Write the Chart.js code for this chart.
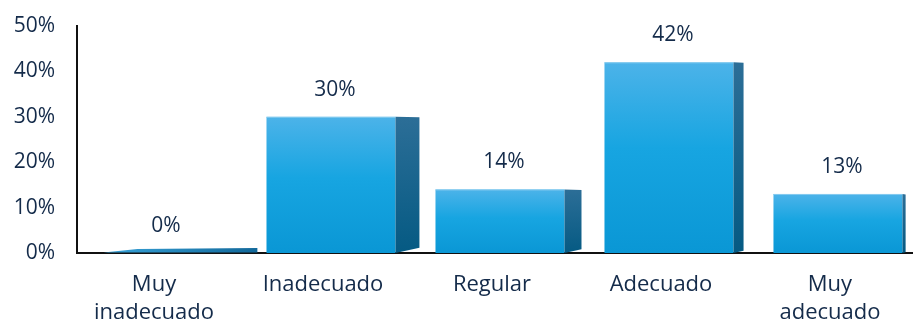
<!DOCTYPE html>
<html>
<head>
<meta charset="utf-8">
<script src="https://cdn.jsdelivr.net/npm/chart.js@4"></script>
<style>
  html, body { margin: 0; padding: 0; background: #fff; }
  #wrap { width: 913px; height: 327px; }
</style>
</head>
<body>
<div id="wrap"><canvas id="grafico"></canvas></div>
<script>
// Datos
const categorias = [['Muy', 'inadecuado'], 'Inadecuado', 'Regular', 'Adecuado', ['Muy', 'adecuado']];
const porcentajes = [0, 30, 14, 42, 13];
const ticksY = [0, 10, 20, 30, 40, 50];

const colorTexto = '#142b4a';
const fuente = '"Open Sans", sans-serif';

// Profundidad lateral (perspectiva: más grande a la izquierda)
const profundidad = (xDer) => Math.max(2, 24 - 0.041 * (xDer - 394));

// Barras 3D dibujadas a partir de los elementos de Chart.js
const barras3D = {
    id: 'barras3D',
    afterDatasetsDraw(chart) {
        const ctx = chart.ctx;
        const meta = chart.getDatasetMeta(0);
        meta.data.forEach((el, i) => {
            const xL = el.x - el.width / 2;
            const xR = el.x + el.width / 2;
            const top = el.y;
            const base = el.base;
            const dx = profundidad(xR);
            ctx.save();
            if (base - top < 1) {
                // barra en cero: solo la cara superior
                const g = ctx.createLinearGradient(xL, 0, xR + dx, 0);
                g.addColorStop(0, '#3aa6dc');
                g.addColorStop(1, '#12689a');
                ctx.fillStyle = g;
                ctx.beginPath();
                ctx.moveTo(xL + 6, base - 0.5);
                ctx.lineTo(xR + dx, base - 0.5);
                ctx.lineTo(xR + dx, base - 5);
                ctx.lineTo(xL + 40, base - 4);
                ctx.closePath();
                ctx.fill();
            } else {
                // cara frontal
                const gf = ctx.createLinearGradient(0, top, 0, base);
                gf.addColorStop(0, '#4cb3e9');
                gf.addColorStop(0.45, '#17a5e1');
                gf.addColorStop(1, '#0a97d5');
                ctx.fillStyle = gf;
                ctx.fillRect(xL, top, xR - xL, base - top);
                // cara lateral
                const gs = ctx.createLinearGradient(0, top, 0, base);
                gs.addColorStop(0, '#2c6e97');
                gs.addColorStop(1, '#055a83');
                ctx.fillStyle = gs;
                ctx.beginPath();
                ctx.moveTo(xR, top);
                ctx.lineTo(xR + dx, top + 0.5);
                ctx.lineTo(xR + dx, base - dx * 0.22);
                ctx.lineTo(xR, base);
                ctx.closePath();
                ctx.fill();
                // borde superior claro
                ctx.strokeStyle = 'rgba(140,205,240,0.9)';
                ctx.lineWidth = 1;
                ctx.beginPath();
                ctx.moveTo(xL, top + 0.5);
                ctx.lineTo(xR, top + 0.5);
                ctx.stroke();
            }
            // etiqueta de valor
            ctx.fillStyle = colorTexto;
            ctx.font = '21px ' + fuente;
            ctx.textAlign = 'center';
            ctx.textBaseline = 'middle';
            ctx.fillText(porcentajes[i] + '%', el.x + 4, top - 27);
            ctx.restore();
        });
    }
};

new Chart(document.getElementById('grafico'), {
    type: 'bar',
    data: {
        datasets: [{
            data: porcentajes.map((v, i) => ({ x: i, y: v })),
            backgroundColor: 'rgba(0,0,0,0)',
            barThickness: 129
        }]
    },
    options: {
        responsive: true,
        maintainAspectRatio: false,
        animation: false,
        layout: { padding: { top: 26, left: 0, right: 0, bottom: 0 } },
        plugins: { legend: { display: false }, tooltip: { enabled: false } },
        scales: {
            x: {
                type: 'linear',
                offset: false,
                min: -0.503,
                max: 4.444,
                afterBuildTicks: (s) => { s.ticks = categorias.map((_, i) => ({ value: i })); },
                afterFit: (s) => { s.height = 74; s.paddingLeft = 0; s.paddingRight = 0; },
                grid: { display: false, drawTicks: false, offset: false },
                border: { color: '#111', width: 2 },
                ticks: {
                    padding: 18,
                    labelOffset: -8,
                    maxRotation: 0,
                    autoSkip: false,
                    color: colorTexto,
                    font: { family: fuente, size: 22, lineHeight: 1.25 },
                    callback: (v) => categorias[v]
                }
            },
            y: {
                min: 0,
                max: 50,
                afterBuildTicks: (s) => { s.ticks = ticksY.map(v => ({ value: v })); },
                afterFit: (s) => { s.width = 77; s.paddingTop = 0; s.paddingBottom = 0; },
                grid: { display: false, drawTicks: false },
                border: { color: '#111', width: 2 },
                ticks: {
                    padding: 22,
                    color: colorTexto,
                    font: { family: fuente, size: 21 },
                    callback: (v) => v + '%'
                }
            }
        }
    },
    plugins: [barras3D]
});
</script>
</body>
</html>
